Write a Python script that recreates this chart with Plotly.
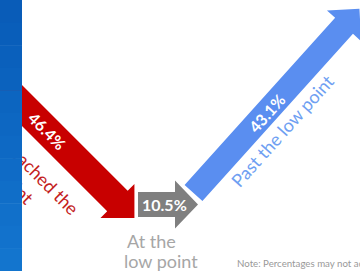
import math
import plotly.graph_objects as go

# ---------------- data ----------------
categories = ["Not reached the low point", "At the low point", "Past the low point"]
shares = [46.4, 10.5, 43.1]
label_lines = [["Not reached the", "low point"], ["At the", "low point"], ["Past the low point"]]
note = "Note: Percentages may not add to 100% due to rounding."

# ---------------- styles ----------------
arrow_colors = ["#c80000", "#7f7f7f", "#5a8ef0"]
label_colors = ["#c41e1e", "#a6a6a6", "#6f9ff2"]
FONT = "Lato, 'Open Sans', Arial, sans-serif"
W, H = 360, 271

# arrow layout: tail centre, angle (deg, clockwise from +x), shaft length,
# shaft half width, head half width, head length
arrow_geom = [
    dict(tail=(-16.9, 66.6), angle=45, length=190, hw=14.5, hh=24, hl=24),
    dict(tail=(138, 204.5), angle=0, length=37, hw=12.5, hh=24, hl=23),
    dict(tail=(193.5, 193), angle=-48, length=225, hw=12, hh=23, hl=23),
]
# value label centres
value_pos = [(47, 130.5), (164, 204.5), (266, 113)]
# category label line centres
label_pos = [[(30.5, 166), (4.5, 174.5)], [(151, 241), (161, 261)], [(282, 131)]]
LABEL_SIZE = 18
VALUE_SIZE = 16


def arrow_path(g):
    a = math.radians(g["angle"])
    d = (math.cos(a), math.sin(a))
    p = (-d[1], d[0])
    t = g["tail"]
    c = (t[0] + d[0] * g["length"], t[1] + d[1] * g["length"])
    tip = (c[0] + d[0] * g["hl"], c[1] + d[1] * g["hl"])
    pts = [
        (t[0] + p[0] * g["hw"], t[1] + p[1] * g["hw"]),
        (c[0] + p[0] * g["hw"], c[1] + p[1] * g["hw"]),
        (c[0] + p[0] * g["hh"], c[1] + p[1] * g["hh"]),
        tip,
        (c[0] - p[0] * g["hh"], c[1] - p[1] * g["hh"]),
        (c[0] - p[0] * g["hw"], c[1] - p[1] * g["hw"]),
        (t[0] - p[0] * g["hw"], t[1] - p[1] * g["hw"]),
    ]
    return "M " + " L ".join(f"{x:.2f},{y:.2f}" for x, y in pts) + " Z"


fig = go.Figure()
fig.add_trace(go.Scatter(x=[], y=[], hoverinfo="skip", showlegend=False))

shapes = []
for g, col in zip(arrow_geom, arrow_colors):
    shapes.append(dict(type="path", path=arrow_path(g), xref="x", yref="y",
                       fillcolor=col, line=dict(width=0, color=col)))

# red category label as shape labels so the left strip can cover it
ang = arrow_geom[0]["angle"]
dx, dy = math.cos(math.radians(ang)), math.sin(math.radians(ang))
for line, (cx, cy) in zip(label_lines[0], label_pos[0]):
    shapes.append(dict(type="line", xref="x", yref="y",
                       x0=cx - 10 * dx, y0=cy - 10 * dy, x1=cx + 10 * dx, y1=cy + 10 * dy,
                       line=dict(width=0, color="rgba(0,0,0,0)"),
                       label=dict(text=line, textangle=ang, textposition="middle",
                                  xanchor="center", yanchor="middle", padding=0,
                                  font=dict(family=FONT, size=LABEL_SIZE, color=label_colors[0]))))

# left blue strip with slight vertical gradient
n = 12
for i in range(n):
    f = i / (n - 1)
    r = int(9 + f * 10)
    gg = int(92 + f * 25)
    b = int(184 + f * 22)
    shapes.append(dict(type="rect", xref="x", yref="y", x0=0, x1=22,
                       y0=H * i / n, y1=H * (i + 1) / n + 0.5,
                       fillcolor=f"rgb({r},{gg},{b})", line=dict(width=0)))

annotations = []
for v, (x, y), g in zip(shares, value_pos, arrow_geom):
    annotations.append(dict(x=x, y=y, xref="x", yref="y", text=f"<b>{v:.1f}%</b>",
                            showarrow=False, textangle=g["angle"],
                            font=dict(family=FONT, size=VALUE_SIZE, color="white"),
                            xanchor="center", yanchor="middle"))
for k in (1, 2):
    for line, (x, y) in zip(label_lines[k], label_pos[k]):
        annotations.append(dict(x=x, y=y, xref="x", yref="y", text=line, showarrow=False,
                                textangle=arrow_geom[k]["angle"] if k == 2 else 0,
                                font=dict(family=FONT, size=LABEL_SIZE, color=label_colors[k]),
                                xanchor="center", yanchor="middle"))
annotations.append(dict(x=235, y=263, xref="x", yref="y", text=note, showarrow=False,
                        xanchor="left", yanchor="middle",
                        font=dict(family=FONT, size=9.7, color="#999999")))

fig.update_layout(
    width=W, height=H, margin=dict(l=0, r=0, t=0, b=0),
    paper_bgcolor="white", plot_bgcolor="white",
    xaxis=dict(range=[0, W], visible=False, fixedrange=True),
    yaxis=dict(range=[H, 0], visible=False, fixedrange=True),
    shapes=shapes, annotations=annotations, showlegend=False,
)
fig.write_html("out.html", config={"displayModeBar": False, "staticPlot": True},
               post_script="document.body.style.margin='0';document.body.style.overflow='hidden';")
